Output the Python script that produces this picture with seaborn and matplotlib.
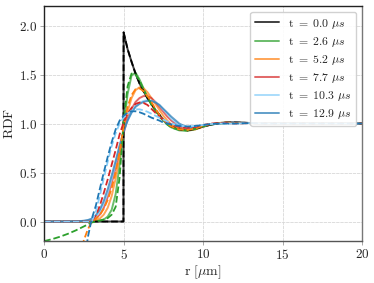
import matplotlib

matplotlib.use("Agg")
from matplotlib import pyplot as plt
from matplotlib.ticker import FuncFormatter
import seaborn as sns

# radial grid (um) shared by all curves except t = 0
r_grid = [0, 0.5, 1, 1.5, 2,
          2.25, 2.5, 2.75, 3.0, 3.25, 3.5, 3.75, 4.0, 4.25, 4.5, 4.75, 5.0,
          5.25, 5.5, 5.75, 6.0, 6.25, 6.5, 6.75, 7.0, 7.25, 7.5, 7.75, 8.0,
          8.5, 9, 9.5, 10, 10.5, 11, 11.5, 12,
          13, 14, 15, 16, 17, 18, 19, 20]
tail = [1.005, 1.0, 1.0, 1.0, 1.0, 1.0, 1.0, 1.0]

# t = 0: hard-sphere like step at r = 5
r_initial = [0, 1, 2, 3, 4, 4.99, 5.0, 5.25, 5.5, 5.75, 6.0, 6.25, 6.5, 6.75,
             7.0, 7.25, 7.5, 7.75, 8.0, 8.5, 9, 9.5, 10, 10.5, 11, 11.5, 12,
             13, 14, 15, 16, 17, 18, 19, 20]
rdf_initial = [0, 0, 0, 0, 0, 0, 1.93, 1.76, 1.63, 1.51, 1.41, 1.33, 1.26, 1.2,
               1.14, 1.09, 1.04, 1.0, 0.97, 0.94, 0.93, 0.945, 0.97, 0.99, 1.005,
               1.01, 1.01] + tail

times = ["0.0", "2.6", "5.2", "7.7", "10.3", "12.9"]

# simulation (solid)
rdf_sim_26 = [0, 0, 0, 0, 0,
              0, 0, 0.002, 0.004, 0.007, 0.01, 0.02, 0.05, 0.12, 0.28, 0.58, 0.97,
              1.3, 1.49, 1.52, 1.45, 1.36, 1.27, 1.2, 1.13, 1.08, 1.03, 0.99, 0.96,
              0.93, 0.925, 0.94, 0.97, 0.99, 1.005, 1.01, 1.01] + tail
rdf_sim_52 = [0, 0, 0, 0, 0,
              0.001, 0.002, 0.004, 0.008, 0.015, 0.03, 0.07, 0.14, 0.26, 0.44, 0.67, 0.92,
              1.12, 1.26, 1.34, 1.37, 1.36, 1.32, 1.26, 1.2, 1.14, 1.08, 1.03, 0.99,
              0.95, 0.93, 0.94, 0.965, 0.99, 1.005, 1.01, 1.01] + tail
rdf_sim_77 = [0, 0, 0, 0, 0.001,
              0.002, 0.004, 0.008, 0.015, 0.03, 0.07, 0.14, 0.25, 0.39, 0.55, 0.73, 0.9,
              1.05, 1.15, 1.22, 1.26, 1.28, 1.28, 1.26, 1.22, 1.17, 1.12, 1.07, 1.03,
              0.97, 0.945, 0.95, 0.97, 0.99, 1.0, 1.01, 1.01] + tail
rdf_sim_103 = [0, 0, 0, 0, 0.002,
               0.004, 0.007, 0.012, 0.025, 0.05, 0.1, 0.18, 0.29, 0.43, 0.59, 0.76, 0.91,
               1.03, 1.12, 1.18, 1.21, 1.23, 1.24, 1.235, 1.22, 1.19, 1.14, 1.1, 1.05,
               0.985, 0.955, 0.955, 0.97, 0.99, 1.0, 1.01, 1.01] + tail
rdf_sim_129 = [0, 0, 0, 0, 0.002,
               0.004, 0.008, 0.015, 0.03, 0.065, 0.12, 0.21, 0.33, 0.47, 0.62, 0.78, 0.92,
               1.03, 1.11, 1.17, 1.2, 1.22, 1.23, 1.23, 1.215, 1.19, 1.15, 1.11, 1.07,
               1.0, 0.96, 0.955, 0.97, 0.99, 1.0, 1.01, 1.01] + tail

# model (dashed)
rdf_fit_26 = [-0.2, -0.18, -0.155, -0.125, -0.09,
              -0.07, -0.05, -0.03, -0.01, 0.0, 0.01, 0.02, 0.035, 0.07, 0.15, 0.45, 1.02,
              1.38, 1.51, 1.5, 1.44, 1.35, 1.27, 1.19, 1.13, 1.07, 1.03, 0.99, 0.96,
              0.935, 0.93, 0.945, 0.97, 0.99, 1.0, 1.005, 1.005] + tail
rdf_fit_52 = [-3.0, -2.3, -1.6, -1.0, -0.55,
              -0.36, -0.19, -0.08, 0.0, 0.03, 0.065, 0.13, 0.22, 0.34, 0.5, 0.72, 0.97,
              1.17, 1.29, 1.35, 1.36, 1.33, 1.28, 1.22, 1.15, 1.09, 1.04, 1.0, 0.97,
              0.94, 0.935, 0.95, 0.975, 0.995, 1.005, 1.01, 1.005] + tail
rdf_fit_77 = [0, 0, 0, 0, 0,
              0, 0, 0, 0.01, 0.06, 0.16, 0.29, 0.43, 0.58, 0.73, 0.89, 1.01,
              1.1, 1.16, 1.2, 1.215, 1.21, 1.19, 1.15, 1.11, 1.07, 1.04, 1.01, 0.99,
              0.965, 0.955, 0.965, 0.985, 1.0, 1.005, 1.005, 1.0] + tail
rdf_fit_103 = [0, 0, 0, 0, 0,
               0, 0, 0, 0.0, 0.1, 0.26, 0.44, 0.61, 0.77, 0.9, 1.0, 1.06,
               1.1, 1.13, 1.145, 1.145, 1.135, 1.12, 1.1, 1.08, 1.06, 1.04, 1.02, 1.0,
               0.98, 0.97, 0.975, 0.985, 0.995, 1.0, 1.0, 1.0] + tail
rdf_fit_129 = [-4.0, -3.2, -2.5, -1.8, -1.2,
               -0.8, -0.47, -0.16, 0.03, 0.16, 0.33, 0.5, 0.66, 0.81, 0.94, 1.03, 1.08,
               1.11, 1.125, 1.125, 1.115, 1.1, 1.08, 1.06, 1.045, 1.03, 1.01, 1.0, 0.99,
               0.975, 0.97, 0.975, 0.985, 0.995, 1.0, 1.0, 1.0] + tail

sim_curves = [rdf_sim_26, rdf_sim_52, rdf_sim_77, rdf_sim_103, rdf_sim_129]
fit_curves = [rdf_fit_26, rdf_fit_52, rdf_fit_77, rdf_fit_103, rdf_fit_129]
colors = ["black", "tab:green", "tab:orange", "tab:red", "lightskyblue", "tab:blue"]

sns.set_style("ticks")
plt.rcParams["mathtext.fontset"] = "cm"
plt.rcParams["font.family"] = ["DejaVu Serif"]

fig = plt.figure(figsize=(3.74, 2.83), dpi=100)
ax = fig.add_axes([0.118, 0.148, 0.850, 0.831])

# solid: simulation
sns.lineplot(x=r_initial, y=rdf_initial, color=colors[0], alpha=0.75, lw=1.4,
             estimator=None, ax=ax, label=rf"$\mathrm{{t}}\ =\ {times[0]}\ \mu s$")
for i, vals in enumerate(sim_curves):
    sns.lineplot(x=r_grid, y=vals, color=colors[i + 1], alpha=0.7, lw=1.4,
                 estimator=None, ax=ax,
                 label=rf"$\mathrm{{t}}\ =\ {times[i + 1]}\ \mu s$")

# dashed: model
sns.lineplot(x=r_initial, y=rdf_initial, color=colors[0], ls="--", lw=1.3,
             estimator=None, ax=ax)
for i, vals in enumerate(fit_curves):
    sns.lineplot(x=r_grid, y=vals, color=colors[i + 1], ls="--", lw=1.3,
                 estimator=None, ax=ax)

ax.set_xlim(0, 20)
ax.set_ylim(-0.2, 2.2)
ax.set_xticks([0, 5, 10, 15, 20])
ax.set_yticks([0.0, 0.5, 1.0, 1.5, 2.0])
ax.xaxis.set_major_formatter(FuncFormatter(lambda v, p: f"${v:.0f}$"))
ax.yaxis.set_major_formatter(FuncFormatter(lambda v, p: f"${v:.1f}$"))
ax.tick_params(labelsize=9.5, length=3, width=0.6, color="#999999", pad=2)
ax.grid(True, color="#d8d8d8", lw=0.6, ls=(0, (4, 1)))
for s in ax.spines.values():
    s.set_color("#222222")
    s.set_linewidth(1.0)
ax.spines["right"].set_color("#777777")
ax.spines["bottom"].set_color("#555555")

ax.set_xlabel(r"$\mathrm{r}\ [\mu\mathrm{m}]$", fontsize=10, labelpad=1)
ax.set_ylabel(r"$\mathrm{RDF}$", fontsize=10, labelpad=2)

ax.legend(loc="upper right", fontsize=8.5, frameon=True, framealpha=0.9,
          edgecolor="#cccccc", handlelength=2.0, labelspacing=0.35,
          borderpad=0.4)

fig.savefig("out.png", dpi=100)
